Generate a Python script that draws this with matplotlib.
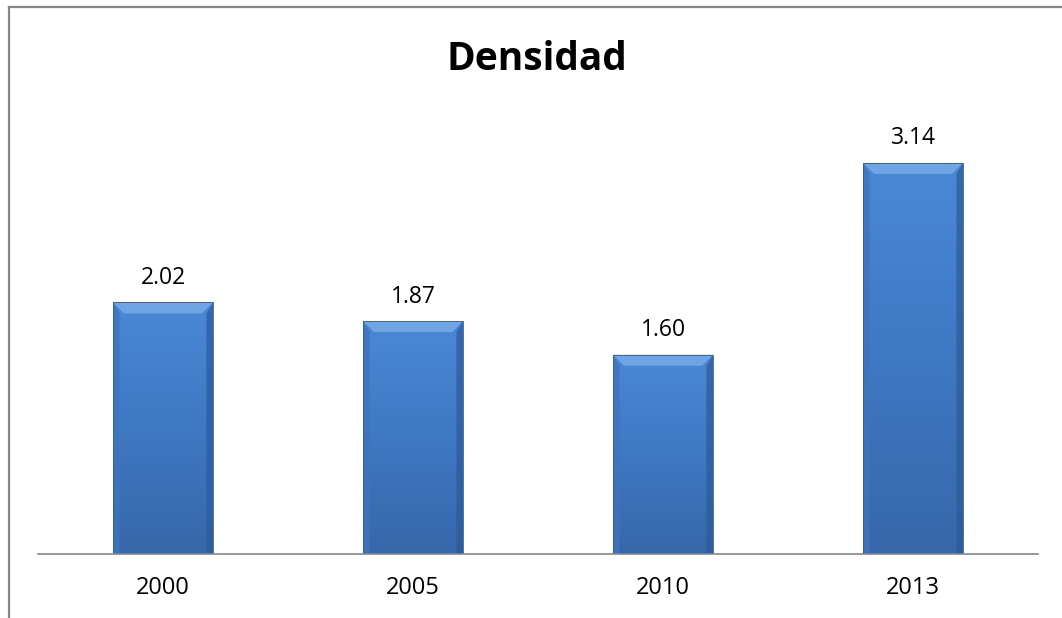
import numpy as np
import matplotlib
matplotlib.use("Agg")
import matplotlib.pyplot as plt
from matplotlib.colors import LinearSegmentedColormap
from matplotlib.patches import Polygon
from matplotlib.lines import Line2D

# Data
years = ["2000", "2005", "2010", "2013"]
densidad = [2.02, 1.87, 1.60, 3.14]
value_labels = ["2.02", "1.87", "1.60", "3.14"]

W, H = 1062, 618
fig = plt.figure(figsize=(W / 100, H / 100), dpi=100)
fig.patch.set_facecolor("white")

left, right, top, bottom = 38, 1038, 118, 554
ax = fig.add_axes([left / W, 1 - bottom / H, (right - left) / W, (bottom - top) / H])

x = np.arange(len(years))
bars = ax.bar(x, densidad, width=0.4, color="none", edgecolor="#2F5E9C",
              linewidth=0.6, zorder=3)

# gradient face + bevel for each bar (Excel-like look)
face_cmap = LinearSegmentedColormap.from_list("face", ["#3767AA", "#3F78C3", "#4A88D6"])
px_x = (right - left) / (len(years))      # pixels per x unit
px_y = (bottom - top) / 3.5                # pixels per y unit
bx, by = 11 / px_x, 11 / px_y
grad = np.linspace(0, 1, 256).reshape(-1, 1)

for rect in bars:
    x0, w, h = rect.get_x(), rect.get_width(), rect.get_height()
    im = ax.imshow(grad, cmap=face_cmap, extent=[x0, x0 + w, 0, h],
                   aspect="auto", origin="lower", zorder=2, interpolation="bilinear")
    im.set_clip_path(rect)
    # top bevel (highlight)
    ax.add_patch(Polygon([(x0, h), (x0 + w, h), (x0 + w - bx, h - by), (x0 + bx, h - by)],
                         closed=True, facecolor="#78ABE8", edgecolor="none", alpha=0.85, zorder=2.5))
    # left bevel
    ax.add_patch(Polygon([(x0, 0), (x0, h), (x0 + bx * 0.6, h - by), (x0 + bx * 0.6, 0)],
                         closed=True, facecolor="#3F74BC", edgecolor="none", alpha=0.8, zorder=2.4))
    # right bevel (shadow)
    ax.add_patch(Polygon([(x0 + w, 0), (x0 + w, h), (x0 + w - bx * 0.6, h - by), (x0 + w - bx * 0.6, 0)],
                         closed=True, facecolor="#2D5A97", edgecolor="none", alpha=0.7, zorder=2.4))

ax.set_ylim(0, 3.5)
ax.set_xlim(-0.5, len(years) - 0.5)

font = "Open Sans"
for xi, v, lab in zip(x, densidad, value_labels):
    ax.annotate(lab, (xi, v), xytext=(0, 9), textcoords="offset points",
                ha="center", va="bottom", fontsize=16.5, family=font, color="black")

ax.set_xticks(x)
ax.set_xticklabels(years, fontsize=17, family=font)
ax.tick_params(axis="x", length=0, pad=16)
ax.set_yticks([])
for s in ["left", "right", "top"]:
    ax.spines[s].set_visible(False)
ax.spines["bottom"].set_color("#868686")
ax.spines["bottom"].set_linewidth(1.2)
ax.spines["bottom"].set_zorder(4)
ax.patch.set_alpha(0)

fig.text(537 / W, 1 - 59 / H, "Densidad", ha="center", va="center",
         fontsize=28, fontweight="bold", family=font)

# chart border (right and bottom edges are cut off in the reference)
fig.add_artist(Line2D([8.5 / W, 8.5 / W], [0, 1 - 6.5 / H], color="#868686", linewidth=1.6))
fig.add_artist(Line2D([8.5 / W, 1], [1 - 6.5 / H, 1 - 6.5 / H], color="#868686", linewidth=1.6))

fig.savefig("out.png", dpi=100)
